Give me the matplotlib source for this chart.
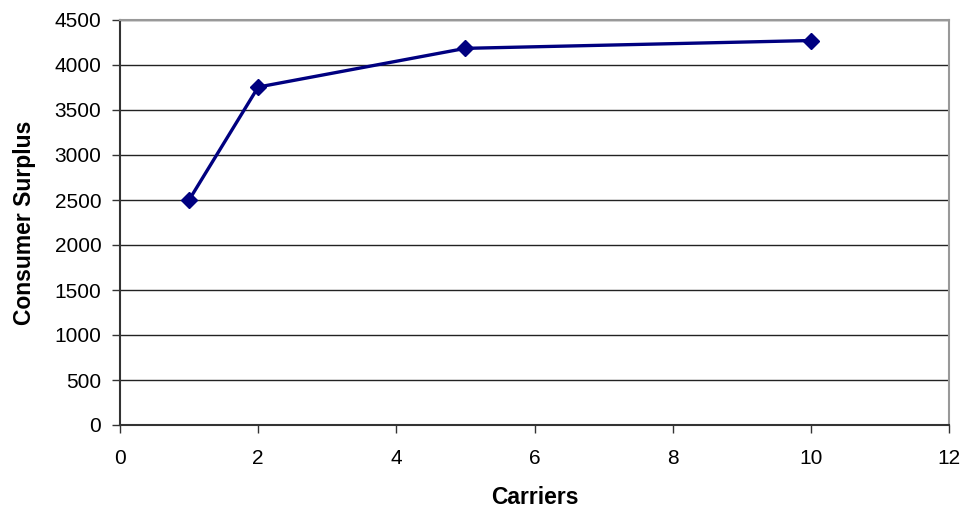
import matplotlib
matplotlib.use("Agg")
import matplotlib.pyplot as plt

carriers = [1, 2, 5, 10]
surplus = [2500, 3755, 4185, 4272]
x_ticks = [0, 2, 4, 6, 8, 10, 12]
y_ticks = [0, 500, 1000, 1500, 2000, 2500, 3000, 3500, 4000, 4500]

plt.rcParams['font.family'] = ['Liberation Sans', 'DejaVu Sans']

fig = plt.figure(figsize=(9.69, 5.17), dpi=100)
ax = fig.add_axes([120/969, 1 - 425/517, (949 - 120)/969, (425 - 20)/517])

ax.plot(carriers, surplus, color='#000080', linewidth=2.4, marker='D',
        markersize=8.5, markerfacecolor='#000080', markeredgecolor='#000080',
        zorder=3)

ax.set_xlim(0, 12)
ax.set_ylim(0, 4500)
ax.set_xticks(x_ticks)
ax.set_yticks(y_ticks)
ax.tick_params(axis='both', labelsize=15, direction='out', length=5.5,
               width=1, color='#333333')
ax.tick_params(axis='x', pad=12)
ax.tick_params(axis='y', pad=8)

ax.yaxis.grid(True, color='#222222', linewidth=1)
ax.set_axisbelow(True)

for side in ('left', 'bottom'):
    ax.spines[side].set_color('#333333')
    ax.spines[side].set_linewidth(1.5)
for side in ('top', 'right'):
    ax.spines[side].set_color('#999999')
    ax.spines[side].set_linewidth(1.5)

ax.set_xlabel('Carriers', fontsize=16.5, fontweight='bold', labelpad=13)
ax.set_ylabel('Consumer Surplus', fontsize=16.5, fontweight='bold', labelpad=13)

fig.savefig('out.png', dpi=100, facecolor='white')
